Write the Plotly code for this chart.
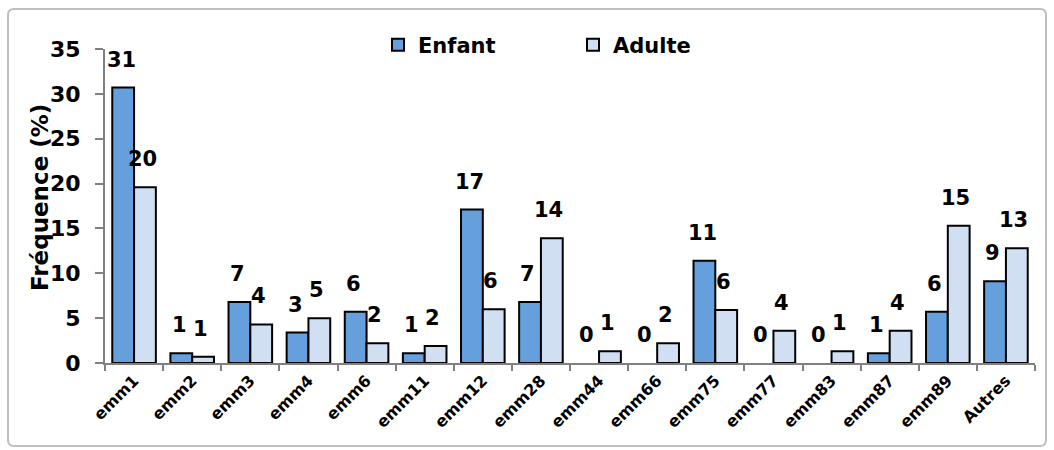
import plotly.graph_objects as go

# emm types and the share (%) of isolates per age group
categories = ["emm1", "emm2", "emm3", "emm4", "emm6", "emm11", "emm12", "emm28",
              "emm44", "emm66", "emm75", "emm77", "emm83", "emm87", "emm89", "Autres"]
enfant = [30.7, 1.1, 6.8, 3.4, 5.7, 1.1, 17.1, 6.8, 0.0, 0.0, 11.4, 0.0, 0.0, 1.1, 5.7, 9.1]
adulte = [19.6, 0.7, 4.3, 5.0, 2.2, 1.9, 6.0, 13.9, 1.3, 2.2, 5.9, 3.6, 1.3, 3.6, 15.3, 12.8]
y_ticks = [0, 5, 10, 15, 20, 25, 30, 35]

FONT = "DejaVu Sans"
ML, MR, MT, MB = 105, 19, 49, 87
W, H = 1054, 450
PW, PH = W - ML - MR, H - MT - MB


def px_x(px):
    return (px - ML) / PW


def px_y(py):
    return (H - MB - py) / PH


def outline(values):
    # no outline on empty bars so nothing is drawn at zero
    return [0 if v == 0 else 2 for v in values]


fig = go.Figure()
fig.add_trace(go.Bar(name="Enfant", x=categories, y=enfant,
                     marker=dict(color="#65A0DC",
                                 line=dict(color="#000000", width=outline(enfant)))))
fig.add_trace(go.Bar(name="Adulte", x=categories, y=adulte,
                     marker=dict(color="#D0E0F2",
                                 line=dict(color="#000000", width=outline(adulte)))))

# value labels above each bar
annotations = []
for series, shift in ((enfant, -13), (adulte, 8)):
    for cat, v in zip(categories, series):
        annotations.append(dict(
            x=cat, y=v, xref="x", yref="y", text=f"{v:.0f}", showarrow=False,
            xanchor="center", yanchor="bottom", xshift=shift, yshift=14,
            font=dict(family=FONT, size=21, color="#000000", weight="bold")))

annotations.append(dict(
    x=px_x(40), y=px_y(198), xref="paper", yref="paper", text="Fréquence (%)",
    textangle=-90, showarrow=False, xanchor="center", yanchor="middle",
    font=dict(family=FONT, size=23, color="#000000", weight="bold")))

# rounded outer frame
x0, x1 = px_x(8), px_x(1046)
y0, y1 = px_y(446), px_y(9)
rx, ry = 6 / PW, 6 / PH
frame = (f"M{x0+rx},{y1} L{x1-rx},{y1} Q{x1},{y1} {x1},{y1-ry} "
         f"L{x1},{y0+ry} Q{x1},{y0} {x1-rx},{y0} L{x0+rx},{y0} "
         f"Q{x0},{y0} {x0},{y0+ry} L{x0},{y1-ry} Q{x0},{y1} {x0+rx},{y1} Z")

fig.update_layout(
    width=W, height=H,
    margin=dict(l=ML, r=MR, t=MT, b=MB),
    paper_bgcolor="#FFFFFF", plot_bgcolor="#FFFFFF",
    barmode="group", bargap=0.25, bargroupgap=0.0,
    showlegend=True,
    legend=dict(orientation="h", x=px_x(378), y=px_y(45), xanchor="left", yanchor="middle",
                entrywidth=150, entrywidthmode="pixels",
                font=dict(family=FONT, size=21, color="#000000", weight="bold"),
                bgcolor="rgba(0,0,0,0)"),
    xaxis=dict(range=[-0.5, len(categories) - 0.5], tickangle=-45,
               showline=True, linecolor="#808080", linewidth=2,
               ticks="outside", tickson="boundaries", ticklen=6, tickcolor="#808080", tickwidth=2,
               showgrid=False, zeroline=False,
               tickfont=dict(family=FONT, size=16, color="#000000", weight="bold")),
    yaxis=dict(range=[0, 35], tickvals=y_ticks,
               showline=True, linecolor="#808080", linewidth=2,
               ticks="outside", ticklen=8, tickcolor="#808080", tickwidth=2,
               ticklabelstandoff=10,
               showgrid=False, zeroline=False,
               tickfont=dict(family=FONT, size=22, color="#000000", weight="bold")),
    annotations=annotations,
    shapes=[dict(type="path", path=frame, xref="paper", yref="paper",
                 line=dict(color="#BFBFBF", width=2), layer="below")],
)

fig.write_html("out.html")
